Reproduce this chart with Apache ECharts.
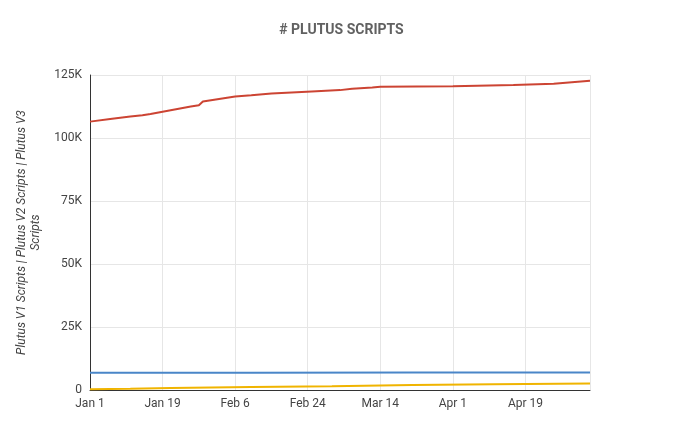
<!DOCTYPE html><html><head><meta charset="utf-8">
<script src="https://cdn.jsdelivr.net/npm/echarts@6/dist/echarts.min.js"></script>
<style>html,body{margin:0;padding:0;background:#fff}#c{width:683px;height:447px}</style></head><body><div id="c"></div>
<script>
const monthNames=["Jan","Feb","Mar","Apr","May"];
const v1Days=[0,5,10,13,15,20,25,27,28,32,36,40,45,55,62,65,70,72,90,105,115,124];
const v1Vals=[106500,107500,108500,109000,109500,111000,112500,113000,114500,115500,116500,117000,117700,118500,119000,119500,120000,120300,120500,121000,121500,122700];
const v2Days=[0,40,80,124];
const v2Vals=[6800,6850,6900,6900];
const v3Days=[0,10,20,40,60,80,100,124];
const v3Vals=[300,500,800,1200,1500,2000,2300,2600];
function pairs(d,v){return d.map((x,i)=>[x,v[i]]);}
function fmtDay(n){const d=new Date(Date.UTC(2025,0,1+n));return monthNames[d.getUTCMonth()]+" "+d.getUTCDate();}
const ch=echarts.init(document.getElementById('c'));
ch.setOption({
 animation:false,
 title:{text:'# PLUTUS SCRIPTS',left:'center',top:18,textStyle:{fontFamily:'Roboto',fontWeight:'bold',fontSize:14,color:'#616161'}},
 grid:{left:90,right:93,top:75,bottom:57},
 xAxis:{type:'value',min:0,max:124,interval:18,axisLine:{show:true,lineStyle:{color:'#333'}},axisTick:{show:false},
  splitLine:{lineStyle:{color:'#e6e6e6'}},axisLabel:{formatter:v=>fmtDay(v),color:'#444',fontFamily:'Roboto',fontSize:12,showMaxLabel:false}},
 yAxis:{type:'value',min:0,max:125000,interval:25000,axisLine:{show:true,lineStyle:{color:'#333'}},axisTick:{show:false},
  splitLine:{lineStyle:{color:'#e6e6e6'}},axisLabel:{formatter:v=>v===0?'0':(v/1000)+'K',color:'#444',fontFamily:'Roboto',fontSize:12},
  name:'Plutus V1 Scripts | Plutus V2 Scripts | Plutus V3\nScripts',nameLocation:'middle',nameGap:44,
  nameTextStyle:{fontStyle:'italic',fontFamily:'Roboto',fontSize:12,color:'#444',lineHeight:14}},
 series:[
  {type:'line',data:pairs(v1Days,v1Vals),showSymbol:false,lineStyle:{color:'#cc4433',width:2},itemStyle:{color:'#cc4433'}},
  {type:'line',data:pairs(v2Days,v2Vals),showSymbol:false,lineStyle:{color:'#4a86c8',width:2},itemStyle:{color:'#4a86c8'}},
  {type:'line',data:pairs(v3Days,v3Vals),showSymbol:false,lineStyle:{color:'#f0b400',width:2},itemStyle:{color:'#f0b400'}}
 ]
});
</script></body></html>
